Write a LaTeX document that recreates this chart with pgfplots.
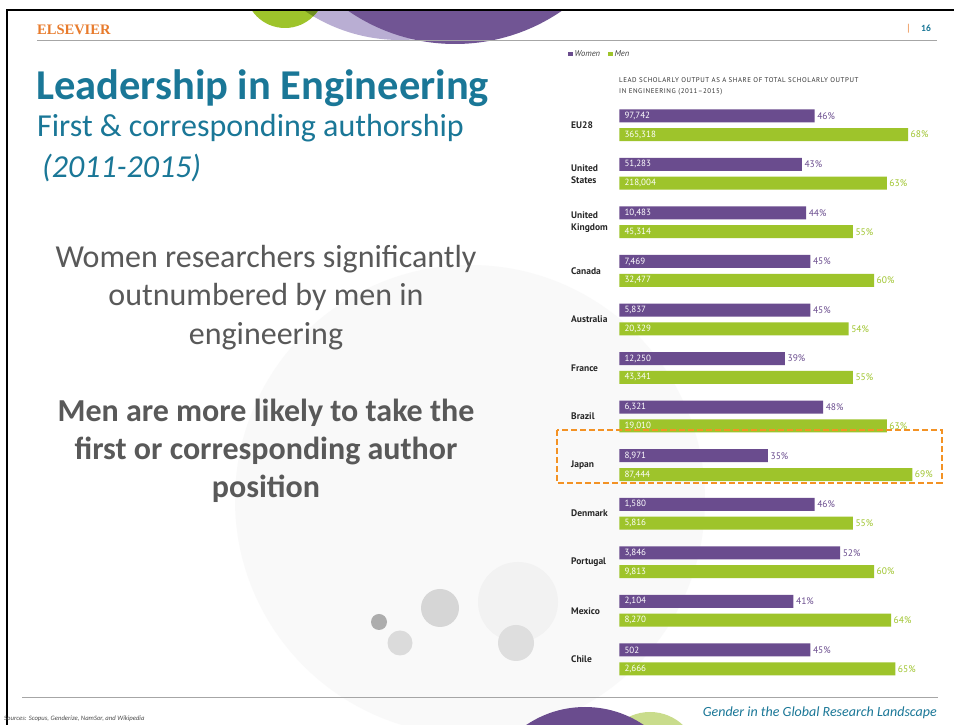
\documentclass[border=0pt]{standalone}
\usepackage{fontspec}
\setmainfont{Carlito}
\newfontfamily\chartfont{PT Sans}
\newfontfamily\charttitlefont[LetterSpace=8]{PT Sans}
\newfontfamily\elsfont{Liberation Serif}
\usepackage{pgfplots}
\pgfplotsset{compat=1.18}
\usepackage{pgfplotstable}
\definecolor{slideteal}{HTML}{1A7797}
\definecolor{bodygrey}{HTML}{595959}
\definecolor{wpurple}{HTML}{6A4C8E}
\definecolor{mgreen}{HTML}{9EC42B}
\definecolor{boxorange}{HTML}{F39224}
\definecolor{elsorange}{HTML}{E87B2C}
\definecolor{lavender}{HTML}{B9AED3}
\definecolor{darkgreen}{HTML}{6F8E22}
\definecolor{lightgreen}{HTML}{C9DC8C}

\pgfplotstableread{
yw ym wp mp wc mc
609.20 590.40 46 68 97,742 365,318
560.64 541.84 43 63 51,283 218,004
512.08 493.28 44 55 10,483 45,314
463.52 444.72 45 60 7,469 32,477
414.96 396.16 45 54 5,837 20,329
366.40 347.60 39 55 12,250 43,341
317.84 299.04 48 63 6,321 19,010
269.28 250.48 35 69 8,971 87,444
220.72 201.92 46 55 1,580 5,816
172.16 153.36 52 60 3,846 9,813
123.60 104.80 41 64 2,104 8,270
75.04 56.24 45 65 502 2,666
}\engdata

\begin{document}
\begin{tikzpicture}[x=1pt,y=1pt]
\useasboundingbox (0,0) rectangle (954,725);
\fill[white] (0,0) rectangle (954,725);
% faint background shapes
\begin{scope}
\clip (7,0) rectangle (954,715);
\fill[black!2.5] (470,225) circle (235);
\fill[black!5] (518,123) circle (40);
\fill[black!13] (516,82) circle (18);
\fill[black!16] (440,117) circle (19);
\fill[black!14] (400,82) circle (12.5);
\fill[black!32] (379,103) circle (8);
% top decorations
\fill[lavender] (400,855) circle (170);
\fill[mgreen] (285,737) circle (40);
\begin{scope}
\clip (400,855) circle (170);
\fill[darkgreen] (285,737) circle (40);
\end{scope}
\fill[wpurple!95!white] (455,869.5) circle (188.5);
% bottom decorations
\fill[lightgreen] (650,-35) circle (48);
\fill[wpurple] (585,-87) circle (105);
\end{scope}
% frame
\draw[black, line width=2] (6,715) -- (954,715);
\draw[black, line width=2] (7,0) -- (7,716);
% header and footer lines
\draw[black!35, line width=0.9] (37,685) -- (937,685);
\draw[black!35, line width=0.9] (22,28) -- (938,28);
% header texts
\node[anchor=base west, inner sep=0, text=elsorange, font=\elsfont\bfseries\fontsize{14.5}{15}\selectfont] at (37,690.5) {ELSEVIER};
\node[anchor=base west, inner sep=0, text=elsorange, font=\fontsize{10}{12}\selectfont] at (906,693) {|};
\node[anchor=base west, inner sep=0, text=slideteal, font=\bfseries\fontsize{9.5}{12}\selectfont] at (921,693) {16};
% left texts
\node[anchor=base west, inner sep=0, text=slideteal, font=\bfseries\fontsize{42.5}{46}\selectfont] at (36,625) {Leadership in Engineering};
\node[anchor=base west, inner sep=0, text=slideteal, font=\fontsize{32}{36}\selectfont] at (37,588) {First \& corresponding authorship};
\node[anchor=base west, inner sep=0, text=slideteal, font=\itshape\fontsize{32}{36}\selectfont] at (42,547) {(2011-2015)};
\node[anchor=base, inner sep=0, text=bodygrey, font=\fontsize{32}{36}\selectfont] at (266,457) {Women researchers significantly};
\node[anchor=base, inner sep=0, text=bodygrey, font=\fontsize{32}{36}\selectfont] at (266,419) {outnumbered by men in};
\node[anchor=base, inner sep=0, text=bodygrey, font=\fontsize{32}{36}\selectfont] at (266,380) {engineering};
\node[anchor=base, inner sep=0, text=bodygrey, font=\bfseries\fontsize{32}{36}\selectfont] at (266,303) {Men are more likely to take the};
\node[anchor=base, inner sep=0, text=bodygrey, font=\bfseries\fontsize{32}{36}\selectfont] at (266,265) {first or corresponding author};
\node[anchor=base, inner sep=0, text=bodygrey, font=\bfseries\fontsize{32}{36}\selectfont] at (266,227) {position};
% footer texts
\node[anchor=base east, inner sep=0, text=slideteal, font=\itshape\fontsize{14}{16}\selectfont] at (937,8) {Gender in the Global Research Landscape};
\node[anchor=base west, inner sep=0, text=black!70, font=\itshape\fontsize{6.7}{7}\selectfont] at (4,4) {Sources: Scopus, Genderize, NamSor, and Wikipedia};
% chart title
\node[anchor=base west, inner sep=0, text=black!80, font=\charttitlefont\fontsize{6.9}{8}\selectfont] at (619,642) {LEAD SCHOLARLY OUTPUT AS A SHARE OF TOTAL SCHOLARLY OUTPUT};
\node[anchor=base west, inner sep=0, text=black!80, font=\charttitlefont\fontsize{6.9}{8}\selectfont] at (619,631) {IN ENGINEERING (2011–2015)};

\begin{axis}[
  at={(619.3pt,0pt)}, anchor=south west,
  scale only axis, width=297.2pt, height=725pt,
  xmin=0, xmax=70, ymin=0, ymax=725,
  axis line style={draw=none}, major tick length=0pt,
  xtick=\empty,
  ytick={599.8,551.24,502.68,454.12,405.56,357,308.44,259.88,211.32,162.76,114.2,65.64},
  yticklabels={EU28,{United\\States},{United\\Kingdom},Canada,Australia,France,Brazil,Japan,Denmark,Portugal,Mexico,Chile},
  yticklabel style={anchor=west, align=left, inner sep=0pt, xshift=-48.3pt, font=\chartfont\bfseries\fontsize{9.5}{12}\selectfont, text=black!85},
  clip=false,
  /pgf/number format/assume math mode=true,
  legend columns=2,
  legend style={draw=none, fill=none, at={(-0.1726,0.9251)}, anchor=west, font=\chartfont\itshape\fontsize{8.5}{10}\selectfont, text=black!75, inner sep=0pt, /tikz/every even column/.append style={column sep=6pt}},
  legend cell align=left,
]
\addplot[xbar, bar shift=0pt, bar width=13, fill=wpurple, draw=none, point meta=x,
  legend image code/.code={\fill[wpurple] (0pt,-2.2pt) rectangle (4.4pt,2.2pt);},
  nodes near coords={\pgfmathprintnumber{\pgfplotspointmeta}\%},
  every node near coord/.append style={anchor=west, text=wpurple, font=\chartfont\fontsize{9.5}{10}\selectfont, inner sep=2.5pt}]
  table[x=wp, y=yw] {\engdata};
\addplot[xbar, bar shift=0pt, bar width=13, fill=mgreen, draw=none, point meta=x,
  legend image code/.code={\fill[mgreen] (0pt,-2.2pt) rectangle (4.4pt,2.2pt);},
  nodes near coords={\pgfmathprintnumber{\pgfplotspointmeta}\%},
  every node near coord/.append style={anchor=west, text=mgreen, font=\chartfont\fontsize{9.5}{10}\selectfont, inner sep=2.5pt}]
  table[x=mp, y=ym] {\engdata};
\addplot[forget plot, only marks, mark=none, point meta=explicit symbolic, nodes near coords,
  every node near coord/.append style={anchor=west, text=white, font=\chartfont\fontsize{9}{10}\selectfont, inner sep=0pt, xshift=5pt}]
  table[x expr=0, y=yw, meta=wc] {\engdata};
\addplot[forget plot, only marks, mark=none, point meta=explicit symbolic, nodes near coords,
  every node near coord/.append style={anchor=west, text=white, font=\chartfont\fontsize{9}{10}\selectfont, inner sep=0pt, xshift=5pt}]
  table[x expr=0, y=ym, meta=mc] {\engdata};
\legend{Women,Men}
\end{axis}
\draw[boxorange, line width=1.8, dash pattern=on 6pt off 3pt] (557,295) rectangle (941.7,242.3);
\end{tikzpicture}
\end{document}
